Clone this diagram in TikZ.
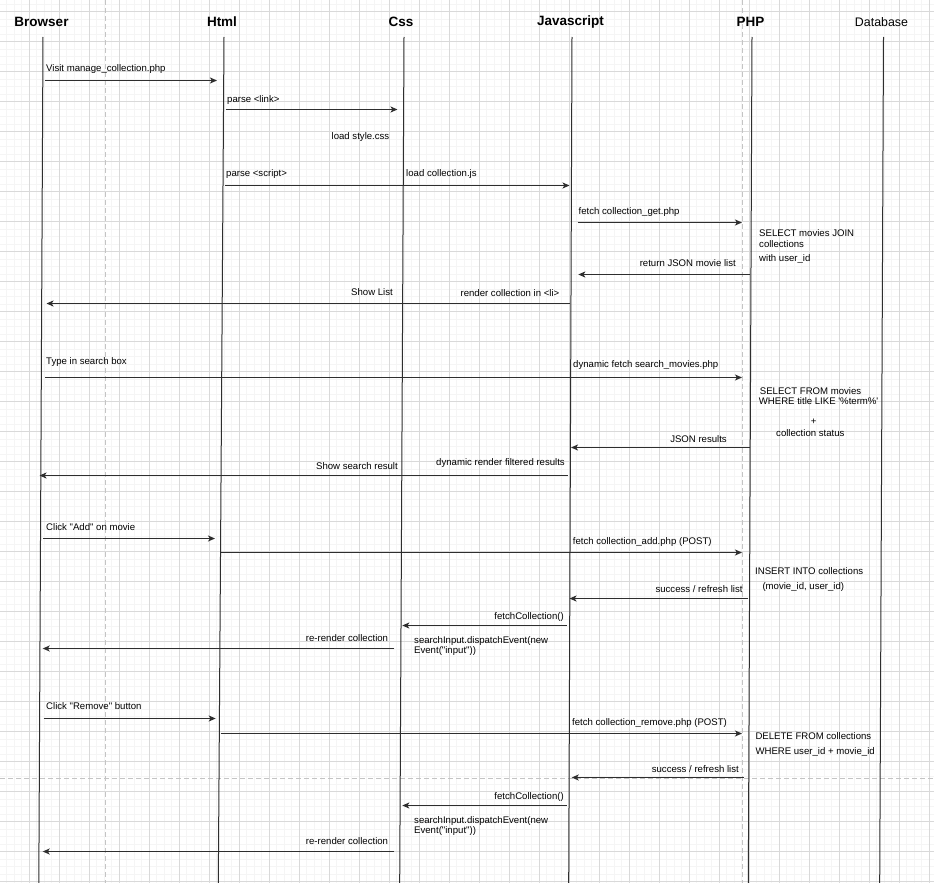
\documentclass[tikz,border=0pt]{standalone}
\usepackage{fontspec}
\newfontfamily\lab{Liberation Sans}
\usetikzlibrary{arrows.meta}
\definecolor{gmaj}{HTML}{D9D9D9}
\definecolor{gmin}{HTML}{F5F5F5}
\definecolor{pageb}{HTML}{C4C4C4}
\definecolor{ink}{HTML}{2E2E2E}
\tikzset{
  hdr/.style={font=\lab\bfseries\fontsize{13.5}{15}\selectfont, inner sep=0pt, anchor=center},
  hdrn/.style={font=\lab\fontsize{12.4}{14}\selectfont, inner sep=0pt, anchor=center},
  lbl/.style={font=\lab\fontsize{9.6}{11}\selectfont, inner sep=0pt, text=black},
  lw/.style={lbl, anchor=base west},
  le/.style={lbl, anchor=base east},
  lc/.style={lbl, anchor=base},
  life/.style={draw=ink, line width=1pt},
  msg/.style={draw=ink, line width=1.2pt, -{Stealth[length=7pt,width=6pt,inset=1.8pt]}},
  pagebreak/.style={draw=pageb, line width=1pt, dash pattern=on 5pt off 3pt},
}
\begin{document}
\begin{tikzpicture}[x=1pt,y=-1pt]
\useasboundingbox (0,0) rectangle (934,883);
\fill[white] (0,0) rectangle (934,883);
% grid
\foreach \i in {0,...,125} \draw[gmin, line width=1pt] ({-0.7+7.5*\i},0) -- ++(0,883);
\foreach \i in {0,...,118} \draw[gmin, line width=1pt] (0,{4.2+7.5*\i}) -- ++(934,0);
\foreach \i in {0,...,31} \draw[gmaj, line width=1pt] ({-0.7+30*\i},0) -- ++(0,883);
\foreach \i in {0,...,29} \draw[gmaj, line width=1pt] (0,{11.7+30*\i}) -- ++(934,0);
% page breaks
\draw[pagebreak] (105,0) -- (105,883);
\draw[pagebreak] (742.7,0) -- (742.7,883);
\draw[pagebreak] (0,778) -- (934,778);
% headers
\node[hdr] (browser) at (41.5,22) {Browser};
\node[hdr] (html) at (222,22) {Html};
\node[hdr] (css) at (401,22) {Css};
\node[hdr] (js) at (570.5,22) {Javascript};
\node[hdr] (php) at (750.5,22) {PHP};
\node[hdrn] (db) at (881.5,22.5) {Database};
% lifelines
\coordinate (browserTop) at (43,37);   \coordinate (browserBot) at (38.8,883);
\coordinate (htmlTop) at (224,37);     \coordinate (htmlBot) at (218.3,883);
\coordinate (cssTop) at (404,37);      \coordinate (cssBot) at (399.7,883);
\coordinate (jsTop) at (572,37);       \coordinate (jsBot) at (568.7,883);
\coordinate (phpTop) at (752,37);      \coordinate (phpBot) at (748.3,883);
\coordinate (dbTop) at (883.5,37);     \coordinate (dbBot) at (879.7,883);
\draw[life] (browserTop) -- (browserBot);
\draw[life] (htmlTop) -- (htmlBot);
\draw[life] (cssTop) -- (cssBot);
\draw[life] (jsTop) -- (jsBot);
\draw[life] (phpTop) -- (phpBot);
\draw[life] (dbTop) -- (dbBot);
% messages
\draw[msg] (45,80.5) -- (217,80.5);
\draw[msg] (226,109.5) -- (397.5,109.5);
\draw[msg] (225,185.5) -- (569.5,185.5);
\draw[msg] (577.7,222.5) -- (742,222.5);
\draw[msg] (750,274.5) -- (578.3,274.5);
\draw[msg] (570,303.5) -- (46.5,303.5);
\draw[msg] (45,377.5) -- (742,377.5);
\draw[msg] (750,447.5) -- (571,447.5);
\draw[msg] (567.7,475.5) -- (39.5,475.5);
\draw[msg] (43.3,538.5) -- (215,538.5);
\draw[msg] (221,552.5) -- (742,552.5);
\draw[msg] (748,598.5) -- (569.5,598.5);
\draw[msg] (566.7,625.5) -- (402.3,625.5);
\draw[msg] (394.3,648.5) -- (42.7,648.5);
\draw[msg] (43.7,718.5) -- (215.7,718.5);
\draw[msg] (220.7,733.5) -- (742,733.5);
\draw[msg] (743.7,777.5) -- (571.7,777.5);
\draw[msg] (566.7,805.5) -- (402.3,805.5);
\draw[msg] (394.3,851.5) -- (42.7,851.5);
% labels
\node[lw] (t1) at (46,71.4) {Visit manage\_collection.php};
\node[lw] (t2) at (227,102) {parse <link>};
\node[le] (t3) at (389.5,139) {load style.css};
\node[lw] (t4) at (226,176) {parse <script>};
\node[lw] (t5) at (406,176) {load collection.js};
\node[lw] (t6) at (578.5,214) {fetch collection\_get.php};
\node[lw] (t7a) at (759,236) {SELECT movies JOIN};
\node[lw] (t7b) at (759,247) {collections};
\node[lw] (t7c) at (759,261.7) {with user\_id};
\node[le] (t8) at (736,266) {return JSON movie list};
\node[le] (t9) at (559.5,296) {render collection in <li>};
\node[le] (t10) at (393,295) {Show List};
\node[lw] (t11) at (46,364) {Type in search box};
\node[lw] (t12) at (573,367.4) {dynamic fetch search\_movies.php};
\node[lw] (t13a) at (759.7,394) {SELECT FROM movies};
\node[lw] (t13b) at (758.7,404.4) {WHERE title LIKE '\%term\%'};
\node[lc] (t13c) at (813.7,424.4) {+};
\node[lw] (t13d) at (776,436) {collection status};
\node[le] (t14) at (727,442) {JSON results};
\node[le] (t15) at (565,465) {dynamic render filtered results};
\node[le] (t16) at (398,469) {Show search result};
\node[lw] (t17) at (46,530) {Click "Add" on movie};
\node[lw] (t18) at (572.7,544.4) {fetch collection\_add.php (POST)};
\node[lw] (t19a) at (755,574.4) {INSERT INTO collections};
\node[lw] (t19b) at (762.3,589.4) {(movie\_id, user\_id)};
\node[le] (t20) at (742.7,592.4) {success / refresh list};
\node[le] (t21) at (564,619.4) {fetchCollection()};
\node[lw] (t22a) at (414,643) {searchInput.dispatchEvent(new};
\node[lw] (t22b) at (414,653.7) {Event("input"))};
\node[le] (t23) at (388.3,641) {re-render collection};
\node[lw] (t24) at (46,709) {Click "Remove" button};
\node[lw] (t25) at (572,725.4) {fetch collection\_remove.php (POST)};
\node[lw] (t26a) at (755.3,739) {DELETE FROM collections};
\node[lw] (t26b) at (755.3,754) {WHERE user\_id + movie\_id};
\node[le] (t27) at (739,772.4) {success / refresh list};
\node[le] (t28) at (564,799.4) {fetchCollection()};
\node[lw] (t29a) at (414,823) {searchInput.dispatchEvent(new};
\node[lw] (t29b) at (414,833.7) {Event("input"))};
\node[le] (t30) at (388.3,844) {re-render collection};
\end{tikzpicture}
\end{document}
